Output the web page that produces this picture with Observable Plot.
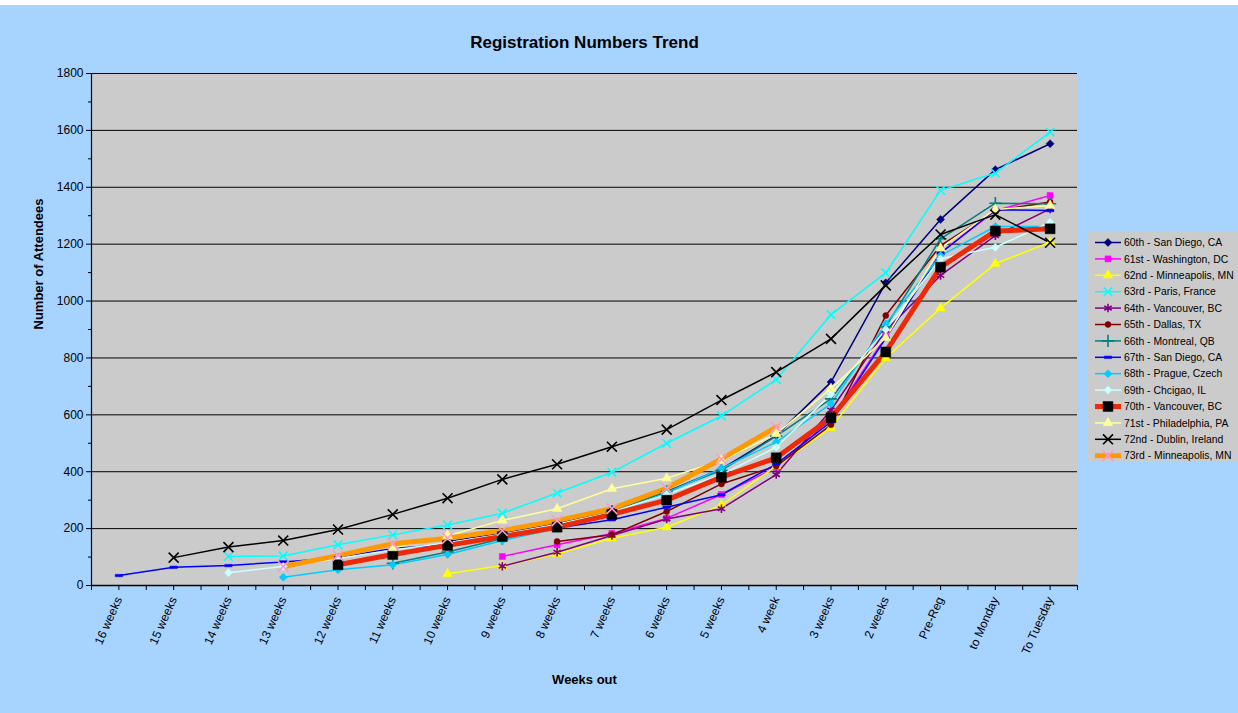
<!DOCTYPE html>
<html><head><meta charset="utf-8">
<script src="https://cdn.jsdelivr.net/npm/d3@7"></script>
<script src="https://cdn.jsdelivr.net/npm/@observablehq/plot@0.6"></script>
<style>
body{margin:0;background:#fff;}
#chart{position:relative;width:1238px;height:713px;background:#A6D3FF;overflow:hidden;font-family:"Liberation Sans",Arial,sans-serif;}
#topstrip{position:absolute;left:0;top:0;width:1238px;height:5px;background:#fff;}
#plot{position:absolute;left:0;top:0;}
#legend{position:absolute;left:1088px;top:232px;}
</style>
</head><body>
<div id="chart"><div id="plot"></div><div id="legend"></div><div id="topstrip"></div></div>
<script>
const categories = ["16 weeks","15 weeks","14 weeks","13 weeks","12 weeks","11 weeks","10 weeks","9 weeks","8 weeks","7 weeks","6 weeks","5 weeks","4 week","3 weeks","2 weeks","Pre-Reg","to Monday","To Tuesday"];
const seriesNames = ["60th - San Diego, CA","61st - Washington, DC","62nd - Minneapolis, MN","63rd - Paris, France","64th - Vancouver, BC","65th - Dallas, TX","66th - Montreal, QB","67th - San Diego, CA","68th - Prague, Czech","69th - Chcigao, IL","70th - Vancouver, BC","71st - Philadelphia, PA","72nd - Dublin, Ireland","73rd - Minneapolis, MN"];
const s60 = [null,null,null,null,null,null,155,185,218,265,330,410,527,715,1064,1287,1462,1553];
const s61 = [null,null,null,null,null,null,null,102,143,183,236,320,415,585,875,1170,1318,1371];
const s62 = [null,null,null,null,null,null,41,70,111,166,205,283,420,555,800,975,1131,1207];
const s63 = [null,null,102,104,143,178,213,254,325,398,500,596,724,952,1099,1389,1450,1594];
const s64 = [null,null,null,null,null,null,null,68,117,176,234,270,390,617,897,1090,1230,1324];
const s65 = [null,null,null,null,null,null,null,null,155,178,260,357,420,565,949,1195,1318,1348];
const s66 = [null,null,null,null,null,78,118,165,210,262,330,405,525,656,910,1219,1344,1342];
const s67 = [35,64,70,83,98,130,144,170,202,231,275,319,427,575,870,1168,1321,1318];
const s68 = [null,null,null,29,55,73,109,158,200,250,325,412,504,639,920,1160,1262,1262];
const s69 = [null,null,45,67,95,125,150,180,215,258,320,390,486,672,900,1149,1189,1277];
const s70 = [null,null,null,null,73,109,141,172,205,250,300,381,449,590,821,1119,1246,1254];
const s71 = [null,null,null,null,null,132,175,229,270,340,377,440,533,692,871,1186,1322,1336];
const s72 = [null,98,135,158,197,250,307,373,426,488,548,652,750,867,1055,1234,1304,1205];
const s73 = [null,null,null,67,105,147,166,193,228,270,342,445,557,null,null,null,null,null];
const seriesValues = [s60,s61,s62,s63,s64,s65,s66,s67,s68,s69,s70,s71,s72,s73];
const yTicks = [0,200,400,600,800,1000,1200,1400,1600,1800];

// styles
const lineColors = ["#000080","#FF00FF","#FFFF00","#00FFFF","#800080","#800000","#008080","#0000FF","#00CCFF","#CCFFFF","#EC2A0A","#FFFF99","#000000","#FF9900"];
const markColors = ["#000080","#FF00FF","#FFFF00","#00FFFF","#800080","#800000","#008080","#0000FF","#00CCFF","#CCFFFF","#000000","#FFFF99","#000000","#FF99CC"];
const dash = {draw(ctx, size){const w = Math.sqrt(size)*1.2; const h = 2.4; ctx.moveTo(-w/2,-h/2); ctx.lineTo(w/2,-h/2); ctx.lineTo(w/2,h/2); ctx.lineTo(-w/2,h/2); ctx.closePath();}};
const rhomb = {draw(ctx, size){const r = Math.sqrt(size/2); ctx.moveTo(0,-r); ctx.lineTo(r,0); ctx.lineTo(0,r); ctx.lineTo(-r,0); ctx.closePath();}};
const symbolNames = [rhomb,"square","triangle","times","asterisk","circle","plus",dash,rhomb,rhomb,"square","triangle","times","times"];
const d3Symbols = {square:d3.symbolSquare,triangle:d3.symbolTriangle,times:d3.symbolTimes,asterisk:d3.symbolAsterisk,circle:d3.symbolCircle,plus:d3.symbolPlus};
const strokeSyms = new Set(["times","asterisk","plus"]);
const lineWidths = [1.5,1.5,1.5,1.5,1.5,1.5,1.5,1.5,1.5,1.5,5,1.5,1.5,5];
const markR = [3.2,3.4,3.6,4,4,3,4,3.5,3.2,3.2,5.6,3.6,4.6,5];

const rows = seriesValues.map((vals,k) => vals.map((v,i) => ({k, name: seriesNames[k], i, v})).filter(d => d.v != null));

function dotOpts(k){
  const s = symbolNames[k];
  const base = {x:"i", y:"v", symbol: s, r: markR[k]};
  if (typeof s === "string" && strokeSyms.has(s)) return {...base, fill:"none", stroke: markColors[k], strokeWidth: 1.6};
  return {...base, fill: markColors[k], stroke: markColors[k], strokeWidth: 0.5};
}

const plot = Plot.plot({
  width: 1238, height: 713,
  marginLeft: 91, marginRight: 161, marginTop: 73, marginBottom: 128,
  style: {background: "transparent", color: "#000", fontFamily: "'Liberation Sans', Arial, sans-serif", fontSize: "12px"},
  x: {domain: [-0.5, 17.5]},
  y: {domain: [0, 1800]},
  marks: [
    Plot.frame({fill: "#CBCBCB", stroke: null}),
    Plot.gridY({ticks: yTicks.filter(t => t > 0), stroke: "#000", strokeOpacity: 1, strokeWidth: 1}),
    Plot.axisY({ticks: yTicks, tickSize: 5, tickPadding: 3, tickFormat: d => String(d), label: null, fontSize: 12}),
    Plot.axisY({ticks: yTicks.slice(0,-1).map(t => t + 100), tickSize: 3, tickFormat: () => "", label: null}),
    Plot.axisX({ticks: d3.range(-0.5, 17.51, 0.5), tickSize: 5, tickFormat: () => "", label: null}),
    Plot.axisX({ticks: d3.range(categories.length), tickSize: 0, tickPadding: 12, tickRotate: -66, tickFormat: i => categories[i], label: null, fontSize: 12}),
    ...rows.map((r,k) => Plot.line(r, {x:"i", y:"v", stroke: lineColors[k], strokeWidth: lineWidths[k]})),
    ...rows.map((r,k) => Plot.dot(r, dotOpts(k))),
    Plot.ruleY([0], {stroke: "#000", strokeWidth: 1.5}),
    Plot.ruleX([-0.5], {stroke: "#000", strokeWidth: 1.2}),
    Plot.text(["Registration Numbers Trend"], {frameAnchor: "top", dy: -38, fontWeight: "bold", fontSize: 17}),
    Plot.text(["Number of Attendees"], {frameAnchor: "left", dx: -53, rotate: -90, fontWeight: "bold", fontSize: 13}),
    Plot.text(["Weeks out"], {frameAnchor: "bottom", dy: 98, fontWeight: "bold", fontSize: 13})
  ]
});
document.getElementById("plot").appendChild(plot);

// legend
const lw = 150, lh = 230;
const leg = d3.select("#legend").append("svg").attr("width", lw).attr("height", lh)
  .style("font-family", "'Liberation Sans', Arial, sans-serif");
leg.append("rect").attr("width", lw).attr("height", lh).attr("fill", "#CBCBCB");
seriesNames.forEach((name, k) => {
  const y = 10.5 + k*16.4;
  const g = leg.append("g").attr("transform", `translate(0,${y})`);
  g.append("line").attr("x1", 7).attr("x2", 33).attr("y1", 0).attr("y2", 0)
    .attr("stroke", lineColors[k]).attr("stroke-width", lineWidths[k]);
  const s = symbolNames[k];
  const type = typeof s === "string" ? d3Symbols[s] : s;
  const size = Math.PI * markR[k] * markR[k];
  const p = g.append("path").attr("transform", "translate(20,0)").attr("d", d3.symbol(type, size)());
  if (typeof s === "string" && strokeSyms.has(s)) p.attr("fill", "none").attr("stroke", markColors[k]).attr("stroke-width", 1.6);
  else p.attr("fill", markColors[k]).attr("stroke", markColors[k]).attr("stroke-width", 0.5);
  g.append("text").attr("x", 36).attr("y", 3.6).attr("font-size", 10.4).attr("fill", "#000").text(name);
});
</script>
</body></html>
